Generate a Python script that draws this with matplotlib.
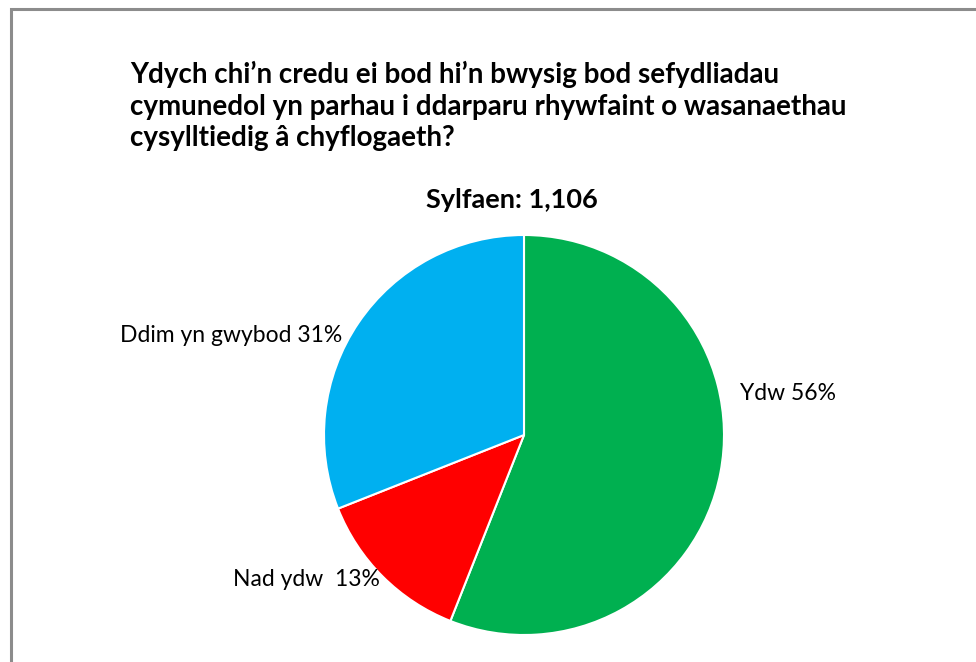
import matplotlib

matplotlib.use("Agg")
import matplotlib.pyplot as plt
from matplotlib.patches import Rectangle

plt.rcParams["font.family"] = ["Lato", "DejaVu Sans"]

TITLE = ("Ydych chi\u2019n credu ei bod hi\u2019n bwysig bod sefydliadau\n"
         "cymunedol yn parhau i ddarparu rhywfaint o wasanaethau\n"
         "cysylltiedig \u00e2 chyflogaeth?")
SUBTITLE = "Sylfaen: 1,106"
labels = ["Ydw 56%", "Nad ydw  13%", "Ddim yn gwybod 31%"]
values = [56, 13, 31]
colors = ["#00B050", "#FF0000", "#00B0F0"]

W, H = 976, 662
fig = plt.figure(figsize=(W / 100, H / 100), dpi=100)
fig.patch.set_facecolor("white")

# outer chart border (clipped on right and bottom)
fig.patches.append(Rectangle((11 / W, -0.1), 1.2, 1 - 9 / H + 0.1, transform=fig.transFigure,
                             fill=False, edgecolor="#8c8c8c", lw=2.2))

fig.text(130 / W, 1 - 106 / H, TITLE, ha="left", va="center", fontsize=20,
         fontweight="bold", color="black", linespacing=1.28)
fig.text(512 / W, 1 - 200 / H, SUBTITLE, ha="center", va="center", fontsize=19.5,
         fontweight="bold", color="black")

cx, cy, r = 524, 435, 200
ax = fig.add_axes([(cx - r) / W, (H - cy - r) / H, 2 * r / W, 2 * r / H])
ax.pie(values, colors=colors, startangle=90, counterclock=False,
       wedgeprops=dict(edgecolor="white", linewidth=1.5))
ax.set_xlim(-1, 1)
ax.set_ylim(-1, 1)
ax.set_aspect("equal")

ax.text(1.08, 0.21, labels[0], ha="left", va="center", fontsize=16.5, clip_on=False)
ax.text(-0.72, -0.725, labels[1], ha="right", va="center", fontsize=16.5, clip_on=False)
ax.text(-0.91, 0.495, labels[2], ha="right", va="center", fontsize=16.5, clip_on=False)

fig.savefig("out.png", dpi=100, facecolor="white")
